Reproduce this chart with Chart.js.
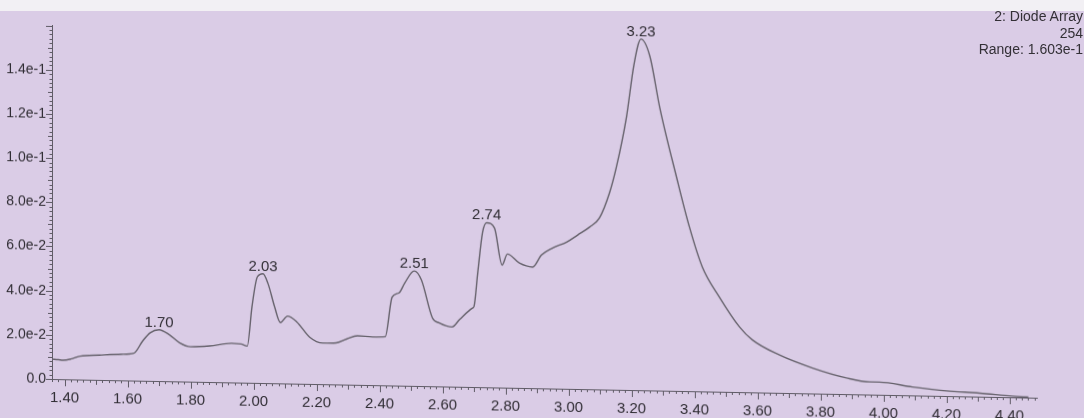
<!DOCTYPE html>
<html>
<head>
<meta charset="utf-8">
<script src="https://cdn.jsdelivr.net/npm/chart.js@4.4.0/dist/chart.umd.min.js"></script>
<style>
  html, body { margin: 0; padding: 0; }
  body {
    width: 1084px; height: 418px; overflow: hidden; position: relative;
    background: linear-gradient(to bottom, #f2f0f4 0, #f2f0f4 11px, #dacce6 11px, #dacce6 100%);
    font-family: "Liberation Sans", Arial, sans-serif;
  }
  /* the printed trace sits slightly askew on the sheet */
  #plot {
    position: absolute; left: 0; top: 0; width: 1084px; height: 418px;
    transform: skewY(1.09deg); transform-origin: 52px 0;
  }
  #info {
    position: absolute; right: 1px; top: 8px; text-align: right;
    font-size: 14px; line-height: 16.5px; color: #333036; white-space: nowrap;
  }
</style>
</head>
<body>
<div id="plot"><canvas id="chrom" width="1084" height="418"></canvas></div>
<div id="info"><div>2: Diode Array</div><div>254</div><div>Range: 1.603e-1</div></div>
<script>
// Retention time (min) and detector response at 254 nm
const retentionTime = [
  1.360, 1.380, 1.395, 1.420, 1.450, 1.510, 1.580, 1.620, 1.648, 1.672,
  1.700, 1.733, 1.765, 1.800, 1.860, 1.930, 1.960, 1.980, 1.995, 2.012,
  2.030, 2.046, 2.067, 2.085, 2.108, 2.137, 2.178, 2.220, 2.262, 2.295,
  2.330, 2.378, 2.418, 2.440, 2.462, 2.480, 2.510, 2.533, 2.568, 2.590,
  2.630, 2.655, 2.695, 2.700, 2.712, 2.727, 2.740, 2.765, 2.789, 2.806,
  2.844, 2.886, 2.914, 2.949, 2.994, 3.029, 3.067, 3.098, 3.130, 3.152,
  3.184, 3.208, 3.230, 3.258, 3.290, 3.343, 3.384, 3.425, 3.479, 3.543,
  3.584, 3.670, 3.775, 3.883, 3.956, 3.987, 4.092, 4.200, 4.305, 4.410,
  4.460
];
const absorbance = [
  0.0090, 0.0088, 0.0086, 0.0092, 0.0106, 0.0112, 0.0118, 0.0124, 0.0180, 0.0218,
  0.0232, 0.0210, 0.0175, 0.0158, 0.0163, 0.0177, 0.0175, 0.0166, 0.0345, 0.0480,
  0.0495, 0.0450, 0.0345, 0.0275, 0.0305, 0.0280, 0.0212, 0.0186, 0.0188, 0.0206,
  0.0222, 0.0218, 0.0220, 0.0400, 0.0420, 0.0465, 0.0520, 0.0480, 0.0309, 0.0287,
  0.0270, 0.0306, 0.0357, 0.0365, 0.0520, 0.0700, 0.0745, 0.0722, 0.0555, 0.0605,
  0.0565, 0.0548, 0.0603, 0.0636, 0.0664, 0.0697, 0.0734, 0.0776, 0.0890, 0.1008,
  0.1235, 0.1475, 0.1590, 0.1515, 0.1280, 0.0968, 0.0743, 0.0563, 0.0429, 0.0295,
  0.0237, 0.0171, 0.0115, 0.0073, 0.0057, 0.0057, 0.0038, 0.0023, 0.0016, 0.0005,
  0.0002
];

// Annotated peak apexes
const peakTimes  = [1.70, 2.03, 2.51, 2.74, 3.23];
const peakLabels = ['1.70', '2.03', '2.51', '2.74', '3.23'];

// Axis labels
const xTickValues = [1.4, 1.6, 1.8, 2.0, 2.2, 2.4, 2.6, 2.8, 3.0, 3.2, 3.4, 3.6, 3.8, 4.0, 4.2, 4.4];
const xTickLabels = ['1.40', '1.60', '1.80', '2.00', '2.20', '2.40', '2.60', '2.80',
                     '3.00', '3.20', '3.40', '3.60', '3.80', '4.00', '4.20', '4.40'];
const yTickValues = [0, 0.02, 0.04, 0.06, 0.08, 0.10, 0.12, 0.14];
const yTickLabels = ['0.0', '2.0e-2', '4.0e-2', '6.0e-2', '8.0e-2', '1.0e-1', '1.2e-1', '1.4e-1'];

const X_MINOR = 0.02;
const Y_MINOR = 0.002;
const AXIS_COLOR = '#5f5b66';
const TEXT_COLOR = '#302d34';
const FONT_FAMILY = '"Liberation Sans", Arial, sans-serif';

function labelFor(values, labels, v) {
  for (let i = 0; i < values.length; i++) {
    if (Math.abs(values[i] - v) < 1e-6) return labels[i];
  }
  return '';
}

// Minor / medium / major tick marks along both axes
const axisTicks = {
  id: 'axisTicks',
  afterDraw(chart) {
    const { ctx, scales: { x, y } } = chart;
    ctx.save();
    ctx.strokeStyle = AXIS_COLOR;
    ctx.lineWidth = 1;
    ctx.beginPath();
    x.ticks.forEach(t => {
      const k = Math.round(t.value / X_MINOR);
      const len = k % 10 === 0 ? 7 : (k % 5 === 0 ? 5 : 3);
      const px = Math.round(x.getPixelForValue(t.value)) + 0.5;
      ctx.moveTo(px, x.top);
      ctx.lineTo(px, x.top + len);
    });
    y.ticks.forEach(t => {
      const k = Math.round(t.value / Y_MINOR);
      const len = k % 10 === 0 ? 6 : (k % 5 === 0 ? 4 : 2.5);
      const py = Math.round(y.getPixelForValue(t.value)) + 0.5;
      ctx.moveTo(y.right, py);
      ctx.lineTo(y.right - len, py);
    });
    ctx.stroke();
    ctx.restore();
  }
};

// Retention-time labels above each annotated apex
const peakTags = {
  id: 'peakTags',
  afterDatasetsDraw(chart) {
    const { ctx } = chart;
    const meta = chart.getDatasetMeta(0);
    ctx.save();
    ctx.font = '15px ' + FONT_FAMILY;
    ctx.fillStyle = TEXT_COLOR;
    ctx.textAlign = 'center';
    ctx.textBaseline = 'alphabetic';
    peakTimes.forEach((t, i) => {
      const idx = retentionTime.indexOf(t);
      const pt = meta.data[idx];
      ctx.fillText(peakLabels[i], pt.x, pt.y - 3);
    });
    ctx.restore();
  }
};

const points = retentionTime.map((t, i) => ({ x: t, y: absorbance[i] }));

new Chart(document.getElementById('chrom'), {
  type: 'line',
  data: {
    datasets: [{
      data: points,
      borderColor: '#65616b',
      borderWidth: 1.4,
      pointRadius: 0,
      fill: false,
      cubicInterpolationMode: 'monotone'
    }]
  },
  options: {
    responsive: false,
    animation: false,
    events: [],
    layout: { padding: { left: 0, right: 47, top: 25, bottom: 0 } },
    plugins: { legend: { display: false }, tooltip: { enabled: false } },
    scales: {
      x: {
        type: 'linear',
        min: 1.36,
        max: 4.487,
        border: { display: true, color: AXIS_COLOR, width: 1 },
        grid: { display: false, drawTicks: false },
        ticks: {
          stepSize: X_MINOR,
          autoSkip: false,
          includeBounds: false,
          maxRotation: 0,
          padding: 10,
          color: TEXT_COLOR,
          font: { family: FONT_FAMILY, size: 15 },
          callback: v => labelFor(xTickValues, xTickLabels, v)
        },
        afterFit(scale) { scale.height = 39; }
      },
      y: {
        type: 'linear',
        min: 0,
        max: 0.1603,
        border: { display: true, color: AXIS_COLOR, width: 1 },
        grid: { display: false, drawTicks: false },
        ticks: {
          stepSize: Y_MINOR,
          autoSkip: false,
          includeBounds: false,
          padding: 6,
          color: TEXT_COLOR,
          font: { family: FONT_FAMILY, size: 14 },
          callback: v => labelFor(yTickValues, yTickLabels, v)
        },
        afterFit(scale) { scale.width = 52; }
      }
    }
  },
  plugins: [axisTicks, peakTags]
});
</script>
</body>
</html>
